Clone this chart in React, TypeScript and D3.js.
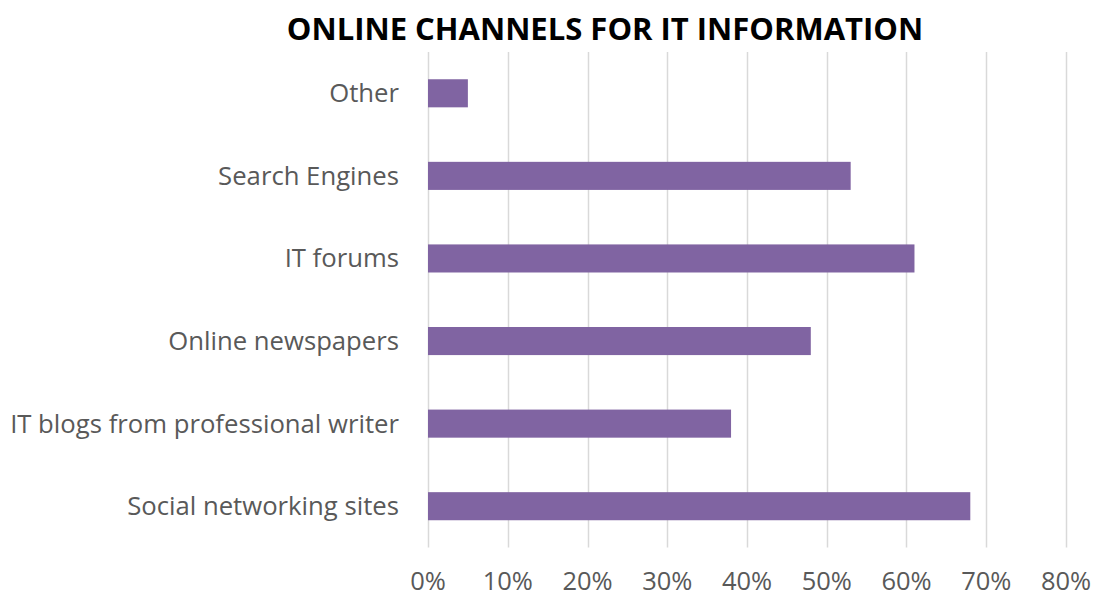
import React from "react";
import * as d3 from "d3";

const WIDTH = 1097;
const HEIGHT = 597;
const MARGIN = { top: 52, right: 31, bottom: 50, left: 428 };

const TITLE = "ONLINE CHANNELS FOR IT INFORMATION";
const CATEGORIES = [
  "Other",
  "Search Engines",
  "IT forums",
  "Online newspapers",
  "IT blogs from professional writer",
  "Social networking sites",
];
const VALUES = [0.05, 0.53, 0.61, 0.48, 0.38, 0.68];
const TICKS = [0, 0.1, 0.2, 0.3, 0.4, 0.5, 0.6, 0.7, 0.8];

const BAR_COLOR = "#8064a2";
const GRID_COLOR = "#d9d9d9";
const TEXT_COLOR = "#595959";
const FONT = "'Open Sans', sans-serif";

const App = () => {
  const boundsWidth = 1066 - MARGIN.left;
  const top = MARGIN.top;
  const bottom = 547.5;

  const xScale = d3.scaleLinear().domain([0, 0.8]).range([MARGIN.left, MARGIN.left + boundsWidth]);
  const yScale = d3
    .scaleBand()
    .domain(CATEGORIES)
    .range([top, bottom])
    .paddingInner(0.66)
    .paddingOuter(0.33);

  const fmt = d3.format(".0%");

  return (
    <svg
      width={WIDTH}
      height={HEIGHT}
      style={{ position: "absolute", left: 0, top: 0, background: "#fff" }}
    >
      <text
        x={605}
        y={40}
        textAnchor="middle"
        fontFamily={FONT}
        fontWeight={700}
        fontSize={31}
        fill="#000"
      >
        {TITLE}
      </text>

      {TICKS.map((t) => (
        <g key={t}>
          <line
            x1={Math.round(xScale(t)) + 0.5}
            x2={Math.round(xScale(t)) + 0.5}
            y1={top}
            y2={bottom}
            stroke={GRID_COLOR}
            strokeWidth={1.5}
          />
          <text
            x={xScale(t)}
            y={590}
            textAnchor="middle"
            fontFamily={FONT}
            fontSize={25.5}
            fill={TEXT_COLOR}
          >
            {fmt(t)}
          </text>
        </g>
      ))}

      {CATEGORIES.map((c, i) => (
        <g key={c}>
          <rect
            x={xScale(0)}
            y={yScale(c)}
            width={xScale(VALUES[i]) - xScale(0)}
            height={yScale.bandwidth()}
            fill={BAR_COLOR}
          />
          <text
            x={399}
            y={(yScale(c) ?? 0) + yScale.bandwidth() / 2}
            dy="0.35em"
            textAnchor="end"
            fontFamily={FONT}
            fontSize={25.7}
            fill={TEXT_COLOR}
          >
            {c}
          </text>
        </g>
      ))}
    </svg>
  );
};

export default App;
